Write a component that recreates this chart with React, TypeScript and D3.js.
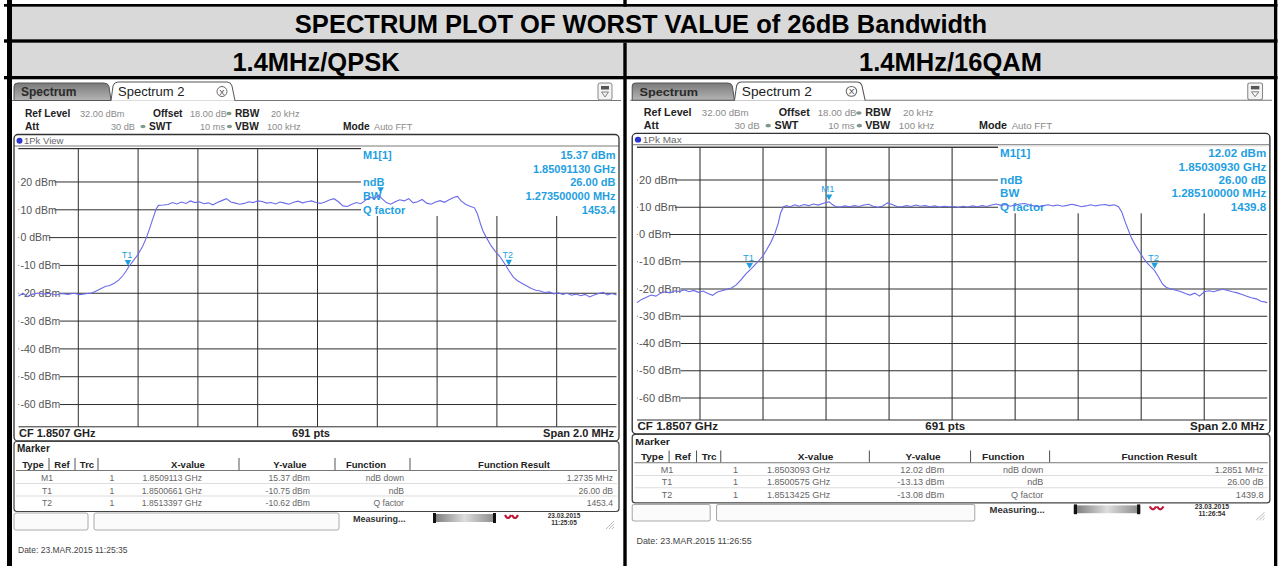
import React from 'react';
import * as d3 from 'd3';

// ---------------- data ----------------
const TITLE = 'SPECTRUM PLOT OF WORST VALUE of 26dB Bandwidth';
const PANEL_TITLES = ['1.4MHz/QPSK', '1.4MHz/16QAM'];

const LEVEL_TICKS_DBM = [20, 10, 0, -10, -20, -30, -40, -50, -60];
const LEVEL_DOMAIN_DBM = [-68, 32];
const FREQ_DOMAIN_MHZ = [-1, 1];
const FREQ_GRID_MHZ = [-0.8, -0.6, -0.4, -0.2, 0, 0.2, 0.4, 0.6, 0.8];

const qpskFreqMHz = [
  -1.0, -0.985, -0.97, -0.955, -0.935, -0.915, -0.895, -0.875, -0.855, -0.835, -0.815, -0.795, -0.775, -0.755,
  -0.74, -0.725, -0.71, -0.695, -0.68, -0.665, -0.652, -0.64, -0.63, -0.615, -0.6, -0.585, -0.572, -0.56, -0.55,
  -0.54, -0.532, -0.515, -0.5, -0.485, -0.47, -0.455, -0.44, -0.425, -0.41, -0.395, -0.38, -0.365, -0.35, -0.335,
  -0.32, -0.305, -0.29, -0.275, -0.26, -0.245, -0.23, -0.215, -0.2, -0.185, -0.17, -0.155, -0.14, -0.125, -0.11,
  -0.095, -0.08, -0.065, -0.05, -0.035, -0.02, -0.005, 0.01, 0.025, 0.04, 0.055, 0.07, 0.085, 0.1, 0.115, 0.13,
  0.145, 0.16, 0.175, 0.19, 0.205, 0.215, 0.23, 0.245, 0.26, 0.275, 0.29, 0.305, 0.32, 0.335, 0.35, 0.365, 0.38,
  0.395, 0.41, 0.425, 0.44, 0.455, 0.468, 0.48, 0.495, 0.51, 0.525, 0.535, 0.545, 0.553, 0.565, 0.58, 0.595, 0.61,
  0.625, 0.64, 0.655, 0.67, 0.685, 0.7, 0.715, 0.73, 0.745, 0.76, 0.775, 0.79, 0.805, 0.82, 0.835, 0.85, 0.865,
  0.88, 0.895, 0.91, 0.925, 0.94, 0.955, 0.97, 0.985, 1.0,
];
const qpskLevelDbm = [
  -21.0, -20.0, -21.2, -20.4, -19.9, -20.3, -20.0, -20.6, -20.1, -20.4, -20.0, -20.5, -20.2, -19.9,
  -19.2, -18.4, -17.6, -17.2, -16.4, -15.3, -13.8, -12.0, -10.3, -8.2, -6.0, -3.2, 0.0, 3.8, 7.0,
  10.2, 11.6, 11.7, 11.9, 12.6, 12.1, 12.8, 12.3, 13.2, 12.6, 12.9, 12.2, 12.5, 11.8, 12.6,
  13.3, 14.0, 12.8, 12.4, 12.0, 12.3, 12.9, 12.6, 13.2, 13.0, 12.4, 12.6, 12.1, 12.8, 12.4,
  12.0, 12.7, 13.1, 12.5, 12.9, 13.2, 12.6, 12.3, 12.8, 13.5, 14.0, 12.9, 11.4, 11.2, 12.0, 12.6,
  12.2, 13.4, 14.6, 14.0, 15.2, 14.1, 12.6, 12.0, 12.9, 13.6, 13.2, 14.0, 12.5, 12.9, 13.7, 12.4, 12.0,
  12.8, 13.3, 12.7, 13.6, 14.4, 14.8, 13.2, 12.0, 11.3, 10.7, 8.5, 5.0, 2.5, 0.0, -2.8, -5.0, -6.8,
  -9.2, -11.8, -14.2, -15.6, -16.5, -17.4, -18.3, -18.9, -19.2, -19.7, -19.5, -20.2, -19.8, -20.4, -20.0, -20.7, -20.3,
  -20.9, -20.4, -21.3, -20.6, -20.1, -19.7, -20.6, -20.1, -20.6,
];

const qam16FreqMHz = [
  -1.0, -0.985, -0.97, -0.955, -0.94, -0.925, -0.91, -0.895, -0.88, -0.865, -0.85, -0.835, -0.82, -0.805, -0.79,
  -0.775, -0.76, -0.745, -0.73, -0.715, -0.7, -0.685, -0.67, -0.655, -0.642, -0.628, -0.615, -0.6, -0.588, -0.575,
  -0.562, -0.552, -0.544, -0.535, -0.525, -0.515, -0.5, -0.485, -0.47, -0.455, -0.44, -0.425, -0.41, -0.398, -0.39,
  -0.38, -0.37, -0.355, -0.34, -0.325, -0.31, -0.295, -0.28, -0.265, -0.25, -0.235, -0.22, -0.205, -0.19, -0.175,
  -0.16, -0.145, -0.13, -0.115, -0.1, -0.085, -0.07, -0.055, -0.04, -0.025, -0.01, 0.005, 0.02, 0.035, 0.05, 0.065,
  0.08, 0.095, 0.11, 0.125, 0.14, 0.155, 0.17, 0.185, 0.2, 0.215, 0.23, 0.245, 0.26, 0.275, 0.29, 0.305, 0.32,
  0.335, 0.35, 0.365, 0.38, 0.395, 0.41, 0.425, 0.44, 0.455, 0.47, 0.485, 0.5, 0.515, 0.528, 0.538, 0.548, 0.558,
  0.57, 0.582, 0.595, 0.608, 0.62, 0.632, 0.642, 0.655, 0.668, 0.68, 0.695, 0.71, 0.725, 0.74, 0.755, 0.77, 0.785,
  0.8, 0.815, 0.83, 0.845, 0.86, 0.875, 0.89, 0.905, 0.92, 0.935, 0.95, 0.965, 0.98, 0.995, 1.0,
];
const qam16LevelDbm = [
  -25.0, -23.8, -23.0, -22.2, -22.6, -21.5, -21.0, -21.4, -20.6, -20.9, -20.3, -21.0, -20.5, -21.2, -20.7,
  -21.6, -22.3, -21.1, -20.6, -20.2, -19.6, -18.5, -16.6, -14.5, -13.1, -11.4, -9.8, -7.8, -5.5, -2.8,
  0.5, 4.0, 8.0, 10.2, 10.6, 10.1, 10.9, 10.4, 11.0, 10.6, 11.2, 10.8, 11.4, 11.8, 12.0,
  11.0, 10.3, 10.1, 10.5, 10.2, 10.6, 10.3, 10.8, 11.1, 10.4, 10.0, 10.5, 11.6, 11.0, 10.3,
  10.2, 10.6, 10.3, 10.8, 10.4, 10.6, 10.2, 10.5, 10.1, 10.4, 10.2, 10.3, 10.0, 10.4, 10.1, 10.5,
  10.2, 10.6, 10.3, 10.8, 11.2, 10.7, 11.0, 10.4, 10.8, 11.2, 11.4, 10.9, 10.5, 10.2, 10.6, 10.9, 10.5,
  10.8, 10.4, 10.7, 11.1, 10.7, 10.2, 10.5, 10.9, 10.5, 10.8, 11.0, 10.6, 10.9, 10.2, 8.4, 5.0, 2.0,
  -1.5, -4.0, -6.5, -8.8, -10.6, -12.0, -13.1, -15.6, -18.2, -19.4, -20.0, -20.4, -20.9, -21.6, -22.2, -21.5, -22.6,
  -21.0, -20.6, -21.0, -20.4, -20.1, -20.5, -21.0, -21.4, -22.0, -22.6, -23.2, -23.6, -24.5, -24.8, -25.0,
];

const MARKER_NAMES = ['M1', 'T1', 'T2'];
const MARKER_FUNCTIONS = ['ndB down', 'ndB', 'Q factor'];
const INFO_LABELS = ['M1[1]', '', 'ndB', 'BW', 'Q factor'];

const qpskMarkerFreqMHz = [0.2113, -0.6339, 0.6397];
const qpskMarkerLevelDbm = [15.37, -10.75, -10.62];
const qpskMarkerXText = ['1.8509113 GHz', '1.8500661 GHz', '1.8513397 GHz'];
const qpskMarkerYText = ['15.37 dBm', '-10.75 dBm', '-10.62 dBm'];
const qpskResults = ['1.2735 MHz', '26.00 dB', '1453.4'];
const qpskInfoValues = ['15.37 dBm', '1.85091130 GHz', '26.00 dB', '1.273500000 MHz', '1453.4'];

const qam16MarkerFreqMHz = [-0.3907, -0.6425, 0.6425];
const qam16MarkerLevelDbm = [12.02, -13.13, -13.08];
const qam16MarkerXText = ['1.8503093 GHz', '1.8500575 GHz', '1.8513425 GHz'];
const qam16MarkerYText = ['12.02 dBm', '-13.13 dBm', '-13.08 dBm'];
const qam16Results = ['1.2851 MHz', '26.00 dB', '1439.8'];
const qam16InfoValues = ['12.02 dBm', '1.85030930 GHz', '26.00 dB', '1.285100000 MHz', '1439.8'];

// ---------------- style ----------------
const CYAN = '#1f9fe2';
const TRACE = '#6b6bea';
const GRID = '#2e2e2e';
const FONT = "'Liberation Sans', Arial, sans-serif";

const G = { left: 18.5, right: 616.5, top: 148.6, bottom: 426.8 };

function Dot({ x, y }) {
  return <ellipse cx={x} cy={y} rx={2.6} ry={1.8} fill="#7f9a8a" />;
}

function Panel(p) {
  const x = d3.scaleLinear().domain(FREQ_DOMAIN_MHZ).range([G.left, G.right]);
  const y = d3.scaleLinear().domain(LEVEL_DOMAIN_DBM).range([G.bottom, G.top]);
  const tracePath = d3
    .line()
    .x((d, i) => x(p.freq[i]))
    .y((d) => y(d))(p.level);
  const boxL = 361;
  const boxB = 216;
  const infoY = [159, 172.5, 186, 199.5, 213.5];
  const rowY = [481, 493.5, 506];
  const colSeps = [49, 75, 98, 239, 335, 410];
  return (
    <g transform={p.transform}>
      <rect x={10} y={79.3} width={613} height={487} fill="#fff" />
      {/* tabs */}
      <line x1={12} x2={621} y1={100.5} y2={100.5} stroke="#777" />
      <path d="M14,100.5 V86.5 Q14,83 18,83 H104 Q108,83 109,86.5 L111,100.5 Z" fill="url(#tabGrad)" stroke="#555" />
      <text x={21} y={96} fontSize={12} fontWeight="bold" fill="#2a2a2a">Spectrum</text>
      <path d="M111,100.8 L113,86 Q114,82 118,82 H227 Q231,82 232,86 L235,100.8" fill="#fff" stroke="#555" />
      <text x={118} y={96} fontSize={13} fill="#222">Spectrum 2</text>
      <circle cx={222} cy={91.5} r={5} fill="#fff" stroke="#666" />
      <text x={222} y={94.5} fontSize={8} textAnchor="middle" fill="#333">X</text>
      <rect x={598} y={83} width={14} height={17} rx={2} fill="#f4f4f4" stroke="#888" />
      <rect x={601} y={86} width={8} height={3.5} fill="#555" />
      <path d="M601.5,92 L608.5,92 L605,97 Z" fill="none" stroke="#666" strokeWidth={0.8} />
      {/* settings */}
      <g fontSize={9.2} fill="#8a8a8a">
        <g fontSize={10.2} fontWeight="bold" fill="#222">
          <text x={25} y={117}>Ref Level</text>
          <text x={153} y={117}>Offset</text>
          <text x={235} y={117}>RBW</text>
          <text x={25} y={130}>Att</text>
          <text x={149} y={130}>SWT</text>
          <text x={235} y={130}>VBW</text>
          <text x={343} y={130}>Mode</text>
        </g>
        <text x={80} y={117}>32.00 dBm</text>
        <text x={190} y={117}>18.00 dB</text>
        <text x={271} y={117}>20 kHz</text>
        <text x={135} y={130} textAnchor="end">30 dB</text>
        <text x={225} y={130} textAnchor="end">10 ms</text>
        <text x={267} y={130}>100 kHz</text>
        <text x={374} y={130}>Auto FFT</text>
      </g>
      <Dot x={229} y={113.5} />
      <Dot x={143} y={126.5} />
      <Dot x={229.5} y={126.5} />
      {/* plot frame */}
      <rect x={14} y={134.5} width={605} height={306.5} rx={4} fill="#fff" stroke="#333" strokeWidth={1.3} />
      <line x1={14} x2={619} y1={146} y2={146} stroke="#555" strokeWidth={0.8} />
      <circle cx={19.5} cy={140.8} r={3} fill="#2a35d0" />
      <text x={24} y={144.3} fontSize={9.5} fill="#666">{p.traceLabel}</text>
      {/* grid */}
      <g stroke={GRID} strokeWidth={1}>
        {FREQ_GRID_MHZ.map((f) => (
          <line key={f} x1={x(f)} x2={x(f)} y1={G.top} y2={G.bottom} />
        ))}
        {[LEVEL_DOMAIN_DBM[1], ...LEVEL_TICKS_DBM, LEVEL_DOMAIN_DBM[0]].map((v) => (
          <line key={v} x1={G.left} x2={G.right} y1={y(v)} y2={y(v)} />
        ))}
      </g>
      {LEVEL_TICKS_DBM.map((v) => {
        const label = `${v} dBm`;
        return (
          <g key={v}>
            <rect x={G.left + 0.6} y={y(v) - 5} width={label.length * 5.55 + 2} height={10} fill="#fff" />
            <text x={20.5} y={y(v) + 3.7} fontSize={10.5} fill="#555">{label}</text>
          </g>
        );
      })}
      {/* marker info box */}
      <rect x={boxL} y={G.top - 1} width={G.right - boxL + 0.5} height={boxB - G.top + 1} fill="#fff" />
      <line x1={G.left} x2={boxL} y1={y(LEVEL_DOMAIN_DBM[1])} y2={y(LEVEL_DOMAIN_DBM[1])} stroke={GRID} />
      <g fontSize={11} fontWeight="bold" fill={CYAN}>
        {INFO_LABELS.map((l, i) => (
          <text key={'l' + i} x={boxL + 2} y={infoY[i]}>{l}</text>
        ))}
        {p.infoValues.map((v, i) => (
          <text key={'v' + i} x={G.right - 1} y={infoY[i]} textAnchor="end">{v}</text>
        ))}
      </g>
      {/* trace */}
      <path d={tracePath} fill="none" stroke={TRACE} strokeWidth={1.1} />
      {p.markerFreq.map((f, i) => {
        const cx = x(f);
        const cy = y(p.markerLevel[i]);
        return (
          <g key={i}>
            <path d={`M${cx - 3.2},${cy - 7.5} L${cx + 3.2},${cy - 7.5} L${cx},${cy - 1.5} Z`} fill={CYAN} />
            {(i > 0 || p.showM1Label) && (
              <text x={cx - 1} y={cy - 9.5} fontSize={9} fill={CYAN} textAnchor="middle">{MARKER_NAMES[i]}</text>
            )}
          </g>
        );
      })}
      {/* footer */}
      <g fontSize={11} fontWeight="bold" fill="#222">
        <text x={19} y={437}>CF 1.8507 GHz</text>
        <text x={311} y={437} textAnchor="middle">691 pts</text>
        <text x={614} y={437} textAnchor="end">Span 2.0 MHz</text>
      </g>
      {/* marker table */}
      <rect x={14} y={441.5} width={605} height={70} rx={3} fill="#fff" stroke="#444" strokeWidth={1.2} />
      <text x={17} y={452} fontSize={10} fontWeight="bold" fill="#222">Marker</text>
      <line x1={16} x2={617} y1={470.5} y2={470.5} stroke="#777" />
      {colSeps.map((c) => (
        <line key={c} x1={c} x2={c} y1={458} y2={470} stroke="#555" />
      ))}
      {[483.5, 496].map((r) => (
        <line key={r} x1={16} x2={617} y1={r} y2={r} stroke="#ddd" />
      ))}
      <g fontSize={9.5} fontWeight="bold" fill="#222">
        <text x={33} y={468} textAnchor="middle">Type</text>
        <text x={62} y={468} textAnchor="middle">Ref</text>
        <text x={87} y={468} textAnchor="middle">Trc</text>
        <text x={188} y={468} textAnchor="middle">X-value</text>
        <text x={290} y={468} textAnchor="middle">Y-value</text>
        <text x={366} y={468} textAnchor="middle">Function</text>
        <text x={514} y={468} textAnchor="middle">Function Result</text>
      </g>
      <g fontSize={8.6} fill="#666">
        {MARKER_NAMES.map((m, i) => (
          <g key={m}>
            <text x={47} y={rowY[i]} textAnchor="middle">{m}</text>
            <text x={112} y={rowY[i]} textAnchor="middle">1</text>
            <text x={202} y={rowY[i]} textAnchor="end">{p.xTexts[i]}</text>
            <text x={310} y={rowY[i]} textAnchor="end">{p.yTexts[i]}</text>
            <text x={404} y={rowY[i]} textAnchor="end">{MARKER_FUNCTIONS[i]}</text>
            <text x={613} y={rowY[i]} textAnchor="end">{p.results[i]}</text>
          </g>
        ))}
      </g>
      {/* status bar */}
      <rect x={14} y={513} width={74} height={17} rx={2} fill="#fbfbfb" stroke="#aaa" />
      <rect x={94} y={513} width={245} height={17} rx={2} fill="#fbfbfb" stroke="#aaa" />
      <text x={353} y={521.5} fontSize={9} fontWeight="bold" fill="#333">Measuring...</text>
      <rect x={433} y={514} width={63} height={8} fill="url(#progGrad)" />
      <rect x={433} y={513} width={3} height={10} fill="#111" />
      <rect x={493} y={513} width={3} height={10} fill="#111" />
      <path d="M505,515 q3,6 6,0 M512,515 q3,6 6,0" stroke="#c01a3a" strokeWidth={2.2} fill="none" />
      <g fontSize={6.5} fontWeight="bold" fill="#333" textAnchor="middle">
        <text x={564} y={518}>{p.statusDate}</text>
        <text x={564} y={525}>{p.statusTime}</text>
      </g>
      <path d="M606,529 L614,521 M609,529 L614,524 M612,529 L614,527" stroke="#aaa" strokeWidth={0.8} />
      <text x={18} y={553} fontSize={8.5} fill="#444">{p.dateText}</text>
    </g>
  );
}

export default function App() {
  return (
    <svg width={1278} height={566} style={{ position: 'absolute', left: 0, top: 0 }} fontFamily={FONT}>
      <defs>
        <linearGradient id="tabGrad" x1="0" y1="0" x2="0" y2="1">
          <stop offset="0" stopColor="#7a7a7a" />
          <stop offset="1" stopColor="#b4b4b4" />
        </linearGradient>
        <linearGradient id="progGrad" x1="0" y1="0" x2="1" y2="0">
          <stop offset="0" stopColor="#777" />
          <stop offset="0.5" stopColor="#ddd" />
          <stop offset="1" stopColor="#888" />
        </linearGradient>
      </defs>
      <rect x={0} y={0} width={1278} height={566} fill="#fff" />
      <rect x={8} y={6.7} width={1266} height={32.6} fill="#d9d9d9" />
      <rect x={8} y={42.7} width={1266} height={33.3} fill="#d9d9d9" />
      <text x={641} y={33} textAnchor="middle" fontSize={25.5} fontWeight="bold" fill="#000">{TITLE}</text>
      <text x={316} y={70.5} textAnchor="middle" fontSize={25.5} fontWeight="bold" fill="#000">{PANEL_TITLES[0]}</text>
      <text x={950.5} y={70.5} textAnchor="middle" fontSize={25.5} fontWeight="bold" fill="#000">{PANEL_TITLES[1]}</text>

      <Panel
        transform=""
        traceLabel="1Pk View"
        freq={qpskFreqMHz}
        level={qpskLevelDbm}
        markerFreq={qpskMarkerFreqMHz}
        markerLevel={qpskMarkerLevelDbm}
        showM1Label={false}
        infoValues={qpskInfoValues}
        xTexts={qpskMarkerXText}
        yTexts={qpskMarkerYText}
        results={qpskResults}
        statusDate="23.03.2015"
        statusTime="11:25:05"
        dateText="Date: 23.MAR.2015  11:25:35"
      />
      <Panel
        transform="translate(628,83) scale(1.054,0.98) translate(-10,-83)"
        traceLabel="1Pk Max"
        freq={qam16FreqMHz}
        level={qam16LevelDbm}
        markerFreq={qam16MarkerFreqMHz}
        markerLevel={qam16MarkerLevelDbm}
        showM1Label={true}
        infoValues={qam16InfoValues}
        xTexts={qam16MarkerXText}
        yTexts={qam16MarkerYText}
        results={qam16Results}
        statusDate="23.03.2015"
        statusTime="11:26:54"
        dateText="Date: 23.MAR.2015  11:26:55"
      />

      {/* table borders */}
      <g fill="#000">
        <rect x={4} y={4} width={1273.5} height={2.7} />
        <rect x={4} y={39.3} width={1273.5} height={3.4} />
        <rect x={4} y={76} width={1273.5} height={3.3} />
        <rect x={7} y={0} width={5} height={566} />
        <rect x={1274} y={0} width={3.3} height={566} />
        <rect x={623.3} y={0} width={3.4} height={6.7} />
        <rect x={623.3} y={42.7} width={3.4} height={523.3} />
      </g>
    </svg>
  );
}
